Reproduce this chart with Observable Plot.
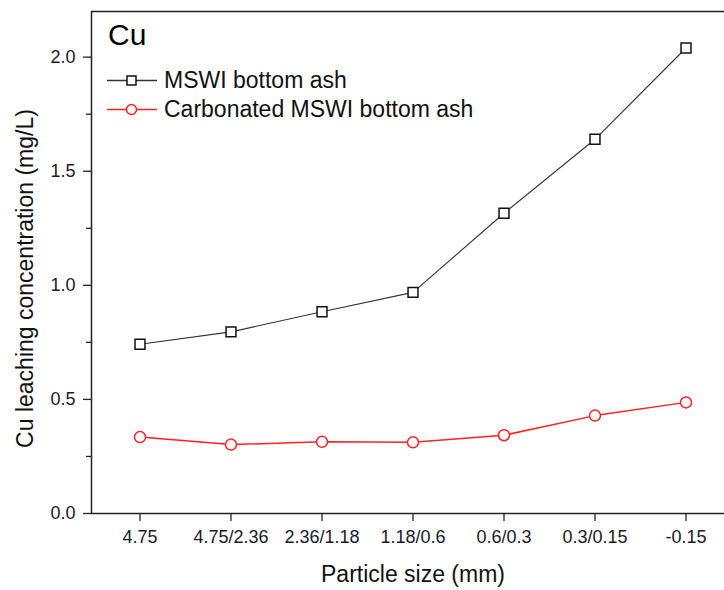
<!DOCTYPE html>
<html>
<head>
<meta charset="utf-8">
<script src="https://cdn.jsdelivr.net/npm/d3@7"></script>
<script src="https://cdn.jsdelivr.net/npm/@observablehq/plot@0.6"></script>
<style>
  html, body { margin: 0; padding: 0; background: #fff; }
  #wrap { position: relative; width: 724px; height: 590px; overflow: hidden; font-family: "Liberation Sans", Arial, sans-serif; }
  #title { position: absolute; left: 108px; top: 18px; font-size: 30px; color: #000; }
  .leg { position: absolute; left: 107px; display: flex; align-items: center; font-size: 23px; color: #111; white-space: nowrap; }
  .leg svg { margin-right: 7px; }
</style>
</head>
<body>
<div id="wrap"></div>
<script>
const categories = ["4.75", "4.75/2.36", "2.36/1.18", "1.18/0.6", "0.6/0.3", "0.3/0.15", "-0.15"];
const mswi = [0.742, 0.796, 0.884, 0.969, 1.316, 1.640, 2.040];
const carbonated = [0.335, 0.302, 0.314, 0.312, 0.343, 0.429, 0.487];
const yTicks = [0, 0.5, 1.0, 1.5, 2.0];
const yMinorTicks = [0.25, 0.75, 1.25, 1.75];
const seriesNames = ["MSWI bottom ash", "Carbonated MSWI bottom ash"];

const rowsA = categories.map((c, i) => ({size: c, value: mswi[i]}));
const rowsB = categories.map((c, i) => ({size: c, value: carbonated[i]}));

const W = 724, H = 590;
const chart = Plot.plot({
  width: W,
  height: H,
  marginLeft: 91,
  marginRight: -10,
  marginTop: 11,
  marginBottom: 77,
  style: {fontFamily: "'Liberation Sans', Arial, sans-serif", background: "#fff", overflow: "hidden"},
  x: {type: "band", domain: categories, padding: 0, align: 0.5},
  y: {domain: [0, 2.2]},
  marks: [
    Plot.frame({stroke: "#222", strokeWidth: 1.5}),
    Plot.axisY({ticks: yTicks, tickSize: 8, tickPadding: 8, tickFormat: d3.format(".1f"), fontSize: 18, fill: "#1a1a2a", stroke: "#222", strokeWidth: 1.3, label: null}),
    Plot.axisY({ticks: yMinorTicks, tickSize: 5, tickFormat: null, text: null, stroke: "#222", strokeWidth: 1.3, label: null}),
    Plot.axisX({tickSize: 8, tickPadding: 9, fontSize: 18, fill: "#1a1a2a", stroke: "#222", strokeWidth: 1.3, label: null}),
    Plot.text(["Particle size (mm)"], {frameAnchor: "bottom", dy: 68, fontSize: 23, fill: "#111"}),
    Plot.text(["Cu leaching concentration (mg/L)"], {frameAnchor: "left", textAnchor: "middle", dx: -66, dy: 16, rotate: -90, fontSize: 23, fill: "#111"}),
    Plot.line(rowsA, {x: "size", y: "value", stroke: "#333", strokeWidth: 1.1}),
    Plot.dot(rowsA, {x: "size", y: "value", symbol: "square", r: 5.6, fill: "#fff", stroke: "#111", strokeWidth: 1.5}),
    Plot.line(rowsB, {x: "size", y: "value", stroke: "#ff2020", strokeWidth: 1.5}),
    Plot.dot(rowsB, {x: "size", y: "value", symbol: "circle", r: 5.5, fill: "#fff", stroke: "#ff2020", strokeWidth: 1.5})
  ]
});

const wrap = document.getElementById("wrap");
wrap.appendChild(chart);

const title = document.createElement("div");
title.id = "title";
title.textContent = "Cu";
wrap.appendChild(title);

const legendItems = [
  {name: seriesNames[0], color: "#111", line: "#333", shape: "square", top: 67},
  {name: seriesNames[1], color: "#ff2020", line: "#ff2020", shape: "circle", top: 96}
];
legendItems.forEach(it => {
  const d = document.createElement("div");
  d.className = "leg";
  d.style.top = it.top + "px";
  const marker = it.shape === "square"
    ? `<rect x="20" y="9" width="9" height="9" fill="#fff" stroke="${it.color}" stroke-width="1.5"/>`
    : `<circle cx="24.5" cy="13.5" r="5" fill="#fff" stroke="${it.color}" stroke-width="1.5"/>`;
  d.innerHTML = `<svg width="50" height="27"><line x1="0" x2="50" y1="13.5" y2="13.5" stroke="${it.line}" stroke-width="1.3"/>${marker}</svg><span>${it.name}</span>`;
  wrap.appendChild(d);
});
</script>
</body>
</html>
